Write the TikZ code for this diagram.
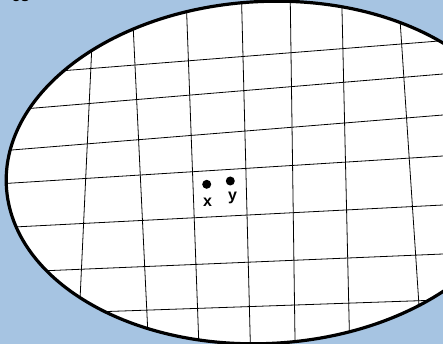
\documentclass[tikz,border=0pt]{standalone}
\usepackage{fontspec}
\setmainfont{Liberation Sans}
\definecolor{bgblue}{RGB}{166,196,226}
\begin{document}
\begin{tikzpicture}[x=1pt,y=-1pt,
  gridline/.style={line width=0.8pt, shorten <=-8pt, shorten >=-8pt},
  dotnode/.style={circle, fill=black, inner sep=0pt, minimum size=9pt},
  lbl/.style={font=\bfseries\fontsize{16}{16}\selectfont, inner sep=0pt},
  blob/.style={rotate around={3:(265,172.5)}}]
\useasboundingbox (0,0) rectangle (443,344);
\fill[bgblue] (0,0) rectangle (443,344);
\clip (0,0) rectangle (443,344);
\node[lbl, anchor=base west] (title) at (11.5,2) {es};
\fill[white, blob] (265,172.5) ellipse [x radius=259pt, y radius=171pt];
\begin{scope}
  \clip[blob] (265,172.5) ellipse [x radius=259pt, y radius=171pt];
  % near-horizontal lines
  \draw[gridline] (63.3,70.7) -- (443,40.7);
  \draw[gridline] (31.7,108.3) -- (443,74);
  \draw[gridline] (11.7,150) -- (443,115);
  \draw[gridline] (8.3,183.3) -- (443,156);
  \draw[gridline] (20,226.7) -- (443,205);
  \draw[gridline] (46.7,270.7) -- (443,254);
  \draw[gridline] (101.7,311.7) -- (419.3,300.7);
  % near-vertical lines
  \draw[gridline] (91.7,50) -- (80,300);
  \draw[gridline] (133.3,30) -- (147.7,329.3);
  \draw[gridline] (186.7,14) -- (198.7,340);
  \draw[gridline] (241.7,6) -- (250.3,342.7);
  \draw[gridline] (290.3,3.3) -- (295,339.3);
  \draw[gridline] (342,10) -- (349.3,329.3);
  \draw[gridline] (400.3,24) -- (418.7,301);
\end{scope}
\draw[line width=3.2pt, blob] (265,172.5) ellipse [x radius=259pt, y radius=171pt];
\node[dotnode] (px) at (206.7,184.3) {};
\node[dotnode] (py) at (230.3,181) {};
\node[lbl, anchor=base] (lx) at (207.5,207) {x};
\node[lbl, anchor=base] (ly) at (232.5,200.5) {y};
\end{tikzpicture}
\end{document}
